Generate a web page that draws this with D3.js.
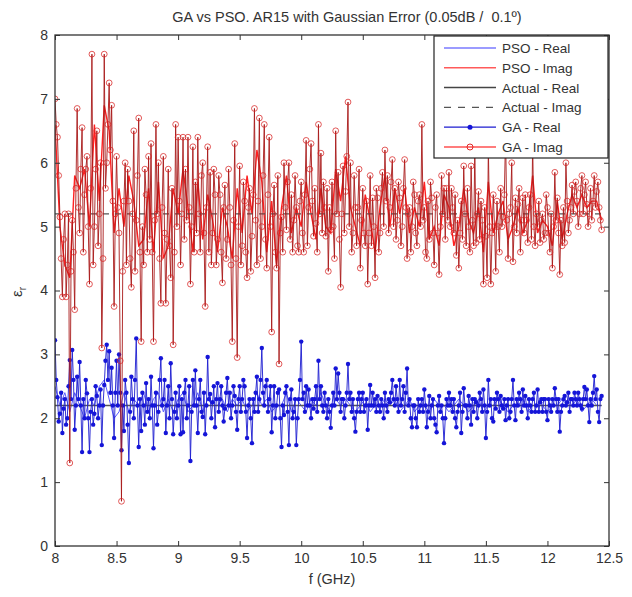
<!DOCTYPE html>
<html>
<head>
<meta charset="utf-8">
<script src="https://cdnjs.cloudflare.com/ajax/libs/d3/7.8.5/d3.min.js"></script>
<style>
  body { margin: 0; background: #fff; }
  svg text { font-family: Arial, "Liberation Sans", Helvetica, sans-serif; fill: #333; white-space: pre; }
</style>
</head>
<body>
<svg id="chart" width="632" height="597"></svg>
<script>
// ---- data ----
// GA samples every 0.01 GHz starting at 8.00 GHz
const gaStart = 8.0, gaStep = 0.01;
const gaImag = [
  7.0, 6.6, 6.4, 5.8, 5.15, 4.5, 3.9, 4.8, 5.2, 3.9,
  4.4, 5.2, 1.3, 4.3, 5.1, 4.6, 3.7, 5.6, 6.85, 5.3,
  4.9, 5.9, 6.55, 4.6, 5.5, 5.9, 6.1, 5.0, 4.1, 5.6,
  7.7, 4.4, 5.0, 5.9, 6.5, 4.7, 5.2, 6.0, 3.1, 4.5,
  7.7, 5.6, 6.0, 6.6, 7.25, 6.2, 6.9, 5.4, 3.75, 5.2,
  6.1, 5.3, 4.9, 2.9, 0.7, 4.3, 5.4, 6.0, 4.4, 5.9,
  5.4, 4.5, 4.05, 5.2, 6.5, 4.3, 5.1, 5.8, 6.7, 4.6,
  3.2, 5.0, 4.4, 5.9, 5.5, 4.6, 6.1, 4.8, 6.3, 4.6,
  3.2, 5.1, 6.6, 5.2, 6.0, 4.5, 3.8, 5.3, 6.1, 4.9,
  3.8, 4.8, 5.9, 4.7, 4.2, 5.6, 3.15, 4.6, 6.6, 5.0,
  6.4, 5.4, 4.4, 5.2, 6.4, 4.8, 5.9, 5.1, 6.4, 5.3,
  4.1, 5.0, 6.25, 4.6, 5.7, 4.9, 6.4, 5.2, 4.6, 5.8,
  6.0, 4.9, 3.75, 5.3, 6.25, 4.6, 5.85, 4.4, 4.9, 5.9,
  5.5, 4.4, 4.8, 5.8, 5.5, 4.6, 4.12, 5.3, 5.65, 4.5,
  4.8, 5.9, 5.3, 4.4, 3.2, 5.1, 6.3, 4.5, 2.95, 5.0,
  5.95, 4.4, 4.7, 5.7, 5.4, 4.6, 4.2, 5.3, 5.6, 4.3,
  4.85, 5.5, 6.85, 5.1, 4.4, 5.4, 6.7, 4.5, 5.0, 5.8,
  6.6, 4.8, 4.35, 5.5, 6.4, 5.0, 3.35, 5.2, 5.65, 4.6,
  4.35, 5.8, 2.85, 4.9, 5.15, 4.6, 6.0, 5.3, 4.95, 5.7,
  6.0, 4.8, 5.5, 4.6, 5.1, 5.8, 5.3, 4.7, 4.6, 5.4,
  5.7, 4.9, 4.6, 5.5, 6.35, 4.7, 5.3, 5.9, 6.3, 5.4,
  4.85, 5.6, 5.05, 4.6, 6.6, 5.2, 6.15, 4.9, 5.7, 5.3,
  4.85, 5.6, 4.3, 5.3, 4.95, 5.7, 5.0, 4.5, 6.5, 5.2,
  5.85, 4.8, 4.05, 5.2, 5.95, 4.9, 5.55, 6.1, 6.95, 5.0,
  6.0, 4.6, 4.9, 5.8, 5.3, 4.7, 5.3, 5.9, 4.35, 5.1,
  5.6, 4.9, 4.7, 5.4, 4.1, 4.9, 5.8, 4.7, 5.45, 5.0,
  4.2, 5.6, 5.45, 4.6, 4.9, 5.6, 5.85, 5.0, 6.2, 5.4,
  5.8, 4.9, 5.3, 5.7, 6.05, 5.0, 5.6, 4.8, 5.1, 5.7,
  5.45, 4.7, 5.0, 5.6, 6.05, 5.3, 4.5, 5.2, 5.3, 4.6,
  5.0, 5.7, 5.5, 4.9, 4.7, 5.4, 5.5, 5.0, 6.6, 5.1,
  5.3, 4.6, 4.5, 5.4, 4.8, 5.7, 5.45, 4.9, 4.4, 5.3,
  5.5, 4.9, 4.25, 5.0, 5.8, 5.2, 5.6, 4.8, 5.6, 5.1,
  5.85, 5.0, 5.6, 5.3, 4.9, 5.5, 4.55, 5.1, 4.35, 4.9,
  5.4, 4.8, 5.95, 5.2, 4.7, 5.6, 5.0, 4.6, 5.95, 5.1,
  4.7, 6.2, 4.75, 5.2, 5.55, 4.8, 5.4, 5.1, 4.1, 5.3,
  4.85, 4.2, 6.25, 5.0, 4.1, 4.9, 5.5, 5.0, 4.3, 5.4,
  5.0, 4.6, 5.6, 5.0, 5.15, 5.5, 6.45, 5.1, 4.5, 5.2,
  5.3, 6.0, 4.45, 5.0, 5.45, 4.9, 5.35, 5.6, 4.6, 5.1,
  5.45, 4.9, 5.5, 5.1, 4.75, 5.3, 5.5, 4.8, 6.3, 5.0,
  4.7, 5.2, 5.0, 5.4, 4.75, 5.1, 5.2, 4.8, 4.9, 5.5,
  5.3, 4.9, 4.6, 5.2, 4.35, 5.0, 5.85, 5.1, 5.45, 4.9,
  4.25, 5.1, 4.7, 5.3, 4.75, 6.0, 5.4, 4.9, 5.1, 5.3,
  5.65, 5.2, 5.55, 5.7, 5.4, 5.0, 5.2, 5.6, 5.8, 5.2,
  5.5, 5.7, 5.35, 5.0, 5.2, 5.6, 5.1, 5.4, 5.8, 5.3,
  5.55, 5.7, 5.3, 5.1, 4.95
];
const gaReal = [
  3.22, 2.6, 2.33, 1.95, 2.07, 2.4, 1.77, 2.15, 2.3, 1.9,
  2.0, 2.5, 2.91, 2.3, 3.07, 2.6, 1.82, 2.2, 2.65, 2.3,
  2.88, 2.2, 1.47, 2.3, 2.0, 2.6, 2.39, 2.0, 1.47, 2.1,
  2.3, 1.9, 2.07, 2.5, 2.35, 2.0, 2.2, 2.45, 1.58, 2.2,
  2.52, 2.9, 3.15, 2.6, 3.05, 2.4, 2.79, 2.2, 1.69, 2.4,
  2.9, 2.2, 3.0, 2.4, 1.5, 2.2, 1.8, 2.6, 2.4, 1.9,
  1.3, 2.1, 2.65, 2.3, 2.0, 2.6, 3.25, 2.2, 1.55, 2.3,
  1.8, 2.4, 2.2, 1.9, 2.55, 2.1, 2.3, 2.0, 2.65, 2.2,
  1.53, 2.2, 2.4, 1.9, 2.1, 2.6, 2.94, 2.2, 2.3, 2.6,
  1.77, 2.2, 2.5, 2.0, 2.86, 2.3, 1.75, 2.1, 2.4, 2.0,
  2.2, 2.5, 1.75, 2.3, 1.78, 2.4, 2.6, 2.0, 2.2, 2.5,
  1.33, 2.1, 2.6, 2.2, 2.75, 2.2, 1.77, 2.3, 2.6, 2.1,
  2.02, 2.4, 1.75, 2.2, 2.96, 2.3, 2.38, 2.0, 2.25, 2.5,
  1.86, 2.3, 2.55, 2.1, 2.3, 2.5, 2.2, 1.95, 2.15, 2.4,
  2.63, 2.2, 2.4, 2.0, 2.2, 2.5, 2.35, 2.1, 1.82, 2.3,
  2.5, 2.1, 2.3, 2.6, 2.5, 2.1, 1.69, 2.2, 2.3, 2.0,
  1.61, 2.3, 2.1, 2.4, 2.65, 2.1, 2.3, 2.6, 3.1, 2.4,
  2.2, 2.5, 2.6, 2.1, 2.3, 2.5, 1.78, 2.2, 2.5, 2.0,
  2.2, 2.4, 2.45, 2.0, 1.55, 2.2, 2.05, 2.4, 2.5, 2.1,
  1.58, 2.3, 2.45, 2.0, 2.1, 2.3, 1.58, 2.0, 2.3, 2.6,
  3.2, 2.3, 2.4, 2.1, 2.5, 2.2, 2.45, 2.2, 2.0, 2.3,
  2.15, 2.3, 2.5, 2.1, 2.9, 2.3, 2.5, 2.2, 2.1, 2.4,
  2.2, 2.0, 2.3, 2.1, 1.85, 2.2, 2.4, 2.2, 2.78, 2.3,
  2.7, 2.4, 2.1, 2.3, 2.3, 2.0, 2.2, 2.4, 2.85, 2.3,
  2.4, 2.1, 2.3, 2.0, 1.79, 2.1, 2.3, 2.4, 2.1, 2.3,
  2.4, 2.1, 2.2, 2.3, 1.82, 2.2, 2.52, 2.2, 2.4, 2.2,
  2.3, 2.1, 2.35, 2.2, 2.1, 2.3, 2.2, 2.0, 2.4, 2.2,
  2.1, 2.3, 2.25, 2.4, 2.6, 2.3, 2.2, 2.5, 2.3, 2.1,
  2.6, 2.2, 2.3, 2.5, 2.1, 2.4, 2.78, 2.2, 2.3, 2.0,
  1.86, 2.2, 2.2, 2.0, 1.86, 2.3, 2.1, 2.2, 2.3, 2.1,
  2.45, 2.2, 1.86, 2.1, 2.35, 2.0, 2.2, 2.3, 2.0, 1.9,
  1.78, 2.2, 2.35, 2.1, 2.2, 2.0, 1.61, 2.0, 2.3, 2.2,
  2.4, 2.2, 2.3, 2.1, 2.3, 2.0, 1.86, 2.1, 2.2, 2.4,
  1.77, 2.1, 2.47, 2.2, 2.2, 2.0, 2.35, 2.2, 1.9, 2.3,
  2.1, 2.3, 2.25, 2.0, 2.2, 2.4, 2.3, 2.1, 2.45, 2.2,
  1.69, 2.1, 2.6, 2.2, 2.3, 2.0, 1.95, 2.3, 2.15, 2.4,
  2.3, 2.1, 2.35, 2.2, 2.15, 2.3, 1.97, 2.2, 2.3, 2.0,
  2.1, 2.3, 2.6, 2.2, 1.97, 2.3, 2.2, 2.4, 2.3, 2.1,
  2.45, 2.2, 2.35, 2.2, 2.0, 2.3, 2.2, 2.1, 2.3, 2.4,
  2.1, 2.2, 2.45, 2.1, 2.25, 2.3, 2.1, 2.3, 2.3, 2.1,
  1.97, 2.3, 2.2, 2.1, 2.3, 2.2, 2.47, 2.3, 2.1, 2.3,
  1.79, 2.1, 2.2, 2.3, 2.35, 2.2, 2.25, 2.4, 2.1, 2.3,
  2.3, 2.2, 2.4, 2.3, 2.2, 2.4, 2.3, 2.2, 2.15, 2.3,
  2.49, 2.3, 2.45, 2.2, 1.94, 2.3, 2.2, 2.4, 2.66, 2.3,
  2.45, 2.1, 1.94, 2.3, 2.35
];
// PSO samples every 0.04 GHz (mostly hidden under the GA curves)
const psoStart = 8.0, psoStep = 0.04;
const psoImag = [
  6.6, 5.0, 4.4, 4.2, 5.8, 5.6, 5.9, 5.0, 6.6, 5.4,
  6.9, 6.5, 4.9, 5.6, 5.0, 5.8, 5.4, 4.7, 4.8, 5.6,
  4.6, 5.7, 4.5, 4.7, 5.6, 5.2, 5.9, 5.3, 4.6, 5.7,
  4.8, 5.5, 5.1, 4.6, 5.3, 5.0, 4.5, 5.6, 4.9, 5.8,
  5.2, 6.2, 5.7, 4.6, 5.4, 4.4, 5.3, 5.8, 4.9, 5.3,
  5.0, 5.7, 5.2, 4.8, 5.6, 5.0, 4.9, 5.9, 5.4, 6.1,
  5.3, 5.0, 4.7, 5.5, 5.1, 4.6, 5.3, 5.8, 5.0, 5.6,
  5.2, 5.6, 4.9, 5.3, 5.0, 5.7, 4.8, 5.0, 4.7, 5.5,
  5.3, 4.7, 5.0, 5.6, 5.1, 4.9, 5.3, 4.6, 5.7, 4.9,
  5.2, 5.4, 4.8, 5.0, 5.3, 4.9, 5.1, 5.8, 4.9, 5.1,
  5.0, 4.7, 5.4, 4.8, 5.2, 5.5, 5.3, 5.5, 5.3, 5.4,
  5.4, 5.1
];
const psoReal = [
  2.5, 2.2, 2.4, 2.1, 2.4, 2.2, 2.0, 2.3, 2.2, 2.5,
  2.6, 2.3, 2.0, 2.1, 2.4, 2.1, 2.3, 2.2, 2.4, 2.1,
  2.3, 2.4, 2.1, 2.3, 2.1, 2.3, 2.4, 2.1, 2.2, 2.4,
  2.1, 2.3, 2.2, 2.2, 2.3, 2.1, 2.3, 2.2, 2.3, 2.1,
  2.2, 2.4, 2.2, 2.3, 2.1, 2.2, 2.2, 2.4, 2.1, 2.3,
  2.2, 2.1, 2.3, 2.2, 2.4, 2.2, 2.1, 2.3, 2.2, 2.3,
  2.2, 2.1, 2.2, 2.3, 2.1, 2.2, 2.2, 2.3, 2.2, 2.3,
  2.1, 2.2, 2.3, 2.1, 2.2, 2.2, 2.1, 2.3, 2.2, 2.2,
  2.1, 2.2, 2.3, 2.2, 2.1, 2.2, 2.3, 2.1, 2.2, 2.2,
  2.3, 2.2, 2.1, 2.2, 2.2, 2.3, 2.1, 2.2, 2.2, 2.2,
  2.1, 2.2, 2.2, 2.3, 2.2, 2.2, 2.3, 2.1, 2.2, 2.3,
  2.2, 2.2
];
// nominal material values
const actualReal = 2.2;
const actualImag = 5.2;

const xTicks = [8, 8.5, 9, 9.5, 10, 10.5, 11, 11.5, 12, 12.5];
const yTicks = [0, 1, 2, 3, 4, 5, 6, 7, 8];
const legendLabels = ["PSO - Real", "PSO - Imag", "Actual - Real", "Actual - Imag", "GA - Real", "GA - Imag"];

// ---- layout ----
const margin = {top: 35, right: 23, bottom: 51, left: 55};
const width = 632, height = 597;
const plotW = width - margin.left - margin.right;
const plotH = height - margin.top - margin.bottom;

const svg = d3.select("#chart");
const g = svg.append("g").attr("transform", `translate(${margin.left},${margin.top})`);

const x = d3.scaleLinear().domain([8, 12.5]).range([0, plotW]);
const y = d3.scaleLinear().domain([0, 8]).range([plotH, 0]);

const toPts = (vals, start, step) => vals.map((v, i) => ({f: start + i * step, v: v}));
const gaImagPts = toPts(gaImag, gaStart, gaStep);
const gaRealPts = toPts(gaReal, gaStart, gaStep);
const psoImagPts = toPts(psoImag, psoStart, psoStep);
const psoRealPts = toPts(psoReal, psoStart, psoStep);
const fEnd = gaStart + (gaImag.length - 1) * gaStep;

svg.append("defs").append("clipPath").attr("id", "clip")
  .append("rect").attr("width", plotW).attr("height", plotH);

const line = d3.line().x(d => x(d.f)).y(d => y(d.v));
const plot = g.append("g").attr("clip-path", "url(#clip)");

// plotting order like the original: PSO, actual, GA
plot.append("path").datum(psoRealPts).attr("d", line)
  .attr("fill", "none").attr("stroke", "#5a5aff").attr("stroke-width", 1);
plot.append("path").datum(psoImagPts).attr("d", line)
  .attr("fill", "none").attr("stroke", "#ff2020").attr("stroke-width", 1.4);

plot.append("line")
  .attr("x1", x(gaStart)).attr("x2", x(fEnd))
  .attr("y1", y(actualReal)).attr("y2", y(actualReal))
  .attr("stroke", "#555").attr("stroke-width", 1.5);
plot.append("line")
  .attr("x1", x(gaStart)).attr("x2", x(fEnd))
  .attr("y1", y(actualImag)).attr("y2", y(actualImag))
  .attr("stroke", "#555").attr("stroke-width", 1.2).attr("stroke-dasharray", "6,6");

plot.append("path").datum(gaRealPts).attr("d", line)
  .attr("fill", "none").attr("stroke", "#1c1cd0").attr("stroke-width", 0.9);
plot.selectAll(".dotR").data(gaRealPts).enter().append("circle")
  .attr("class", "dotR")
  .attr("cx", d => x(d.f)).attr("cy", d => y(d.v)).attr("r", 2.2)
  .attr("fill", "#1515d8");

plot.append("path").datum(gaImagPts).attr("d", line)
  .attr("fill", "none").attr("stroke", "#a81818").attr("stroke-width", 0.9);
plot.selectAll(".dotI").data(gaImagPts).enter().append("circle")
  .attr("class", "dotI")
  .attr("cx", d => x(d.f)).attr("cy", d => y(d.v)).attr("r", 2.9)
  .attr("fill", "none").attr("stroke", "#d82424").attr("stroke-width", 0.75);

// ---- axes (MATLAB style: box, inward ticks) ----
const tickLen = 5;
const xAxisB = d3.axisBottom(x).tickValues(xTicks).tickSizeInner(-tickLen).tickSizeOuter(0).tickPadding(7)
  .tickFormat(d3.format("~g"));
const yAxisL = d3.axisLeft(y).tickValues(yTicks).tickSizeInner(-tickLen).tickSizeOuter(0).tickPadding(7);

const gx = g.append("g").attr("transform", `translate(0,${plotH})`).call(xAxisB);
const gy = g.append("g").call(yAxisL);
const gxt = g.append("g").call(d3.axisTop(x).tickValues(xTicks).tickSizeInner(-tickLen).tickSizeOuter(0).tickFormat(""));
const gyr = g.append("g").attr("transform", `translate(${plotW},0)`)
  .call(d3.axisRight(y).tickValues(yTicks).tickSizeInner(-tickLen).tickSizeOuter(0).tickFormat(""));

[gx, gy, gxt, gyr].forEach(a => {
  a.select(".domain").remove();
  a.selectAll(".tick line").attr("stroke", "#333");
  a.selectAll("text").attr("font-size", 14).attr("fill", "#333");
});

g.append("rect").attr("width", plotW).attr("height", plotH)
  .attr("fill", "none").attr("stroke", "#333").attr("stroke-width", 1.3);

// ---- labels ----
svg.append("text").attr("x", 347).attr("y", 22)
  .attr("text-anchor", "middle").attr("font-size", 14.5)
  .text("GA vs PSO. AR15 with Gaussian Error (0.05dB /  0.1º)");

svg.append("text").attr("x", margin.left + plotW / 2).attr("y", 584)
  .attr("text-anchor", "middle").attr("font-size", 14.5)
  .text("f (GHz)");

const yl = svg.append("text")
  .attr("transform", "translate(22,292) rotate(-90)")
  .attr("text-anchor", "middle").attr("font-size", 15);
yl.append("tspan").text("ε");
yl.append("tspan").attr("font-size", 10).attr("dy", 4).text("r");

// ---- legend ----
const lg = svg.append("g").attr("transform", "translate(434,36)");
lg.append("rect").attr("width", 174).attr("height", 122)
  .attr("fill", "#fff").attr("stroke", "#222").attr("stroke-width", 1.2);

const rowH = 19.8, row0 = 12;
const legendStyle = [
  {stroke: "#7a7aff", w: 1.5},
  {stroke: "#ff5a5a", w: 1.5},
  {stroke: "#444", w: 1.5},
  {stroke: "#555", w: 1.2, dash: "7,7"},
  {stroke: "#1c1cd0", w: 1.3, marker: "dot"},
  {stroke: "#ff5050", w: 1.3, marker: "circle"}
];
legendLabels.forEach((lab, i) => {
  const yy = row0 + i * rowH;
  const st = legendStyle[i];
  lg.append("line").attr("x1", 10).attr("x2", 62).attr("y1", yy).attr("y2", yy)
    .attr("stroke", st.stroke).attr("stroke-width", st.w)
    .attr("stroke-dasharray", st.dash || null);
  if (st.marker === "dot") {
    lg.append("circle").attr("cx", 36).attr("cy", yy).attr("r", 2.5).attr("fill", "#1515d8");
  } else if (st.marker === "circle") {
    lg.append("circle").attr("cx", 36).attr("cy", yy).attr("r", 3)
      .attr("fill", "none").attr("stroke", "#e02828").attr("stroke-width", 1);
  }
  lg.append("text").attr("x", 68).attr("y", yy + 5).attr("font-size", 13.5).text(lab);
});
</script>
</body>
</html>
